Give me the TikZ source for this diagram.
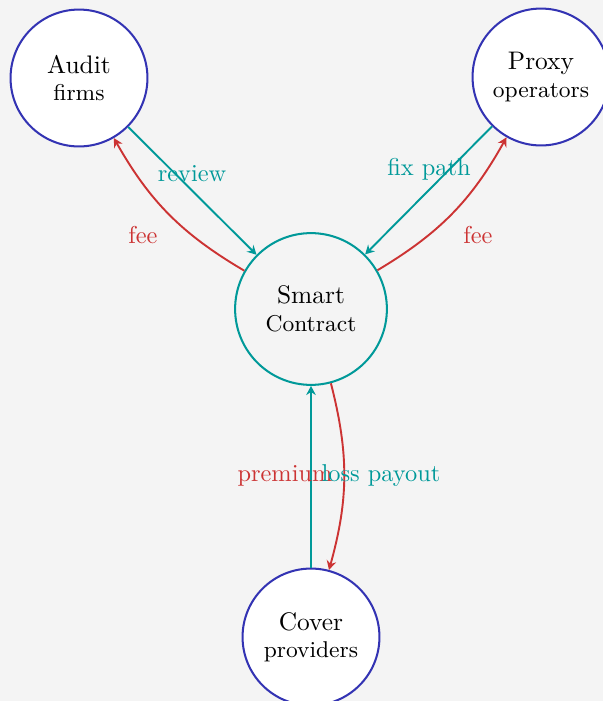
\documentclass[tikz,border=0pt]{standalone}
\usetikzlibrary{arrows.meta}
\definecolor{bg}{HTML}{F4F4F4}
\definecolor{nblue}{HTML}{3333B3}
\definecolor{nteal}{HTML}{009999}
\definecolor{nred}{HTML}{CC3333}
\begin{document}
\begin{tikzpicture}[x=0.3937pt,y=-0.3937pt,
  party/.style={circle, draw=nblue, fill=white, line width=0.8pt, minimum size=53.9pt, inner sep=0pt, align=center},
  hub/.style={circle, draw=nteal, fill=bg, line width=0.8pt, minimum size=59.75pt, inner sep=0pt, align=center},
  tipstyle/.style={-{Stealth[length=3.6pt,width=3.8pt,inset=1.2pt]}},
  flow/.style={draw=nteal, line width=0.75pt, tipstyle},
  pay/.style={draw=nred, line width=0.75pt, tipstyle},
  lblteal/.style={font=\fontsize{9.6}{11}\selectfont, text=nteal, inner sep=1pt},
  lblred/.style={font=\fontsize{9.6}{11}\selectfont, text=nred, inner sep=1pt}]
\fill[bg] (0,0) rectangle (603,701);
\useasboundingbox (0,0) rectangle (603,701);

\node[party] (audit) at (79,78) {Audit\\[-1.2pt]{\small firms}};
\node[party] (proxy) at (541,77) {Proxy\\[-1.2pt]{\small operators}};
\node[hub] (smart) at (311,309) {Smart\\[-1.2pt]{\small Contract}};
\node[party] (cover) at (311,637) {Cover\\[-1.2pt]{\small providers}};

\draw[flow] (audit) -- (smart);
\draw[pay] (smart) to[bend left=15] (audit);
\draw[flow] (proxy) -- (smart);
\draw[pay] (smart) to[bend right=15] (proxy);
\draw[flow] (cover) -- (smart);
\draw[pay] (smart) to[bend left=15] (cover);

\node[lblteal] (lreview) at (192,174) {review};
\node[lblred] (lfeea) at (143,235) {fee};
\node[lblteal] (lfix) at (429,169) {fix path};
\node[lblred] (lfeep) at (478,235) {fee};
\node[lblred] (lprem) at (285,476) {premium};
\node[lblteal] (lloss) at (381,476) {loss payout};
\end{tikzpicture}
\end{document}
